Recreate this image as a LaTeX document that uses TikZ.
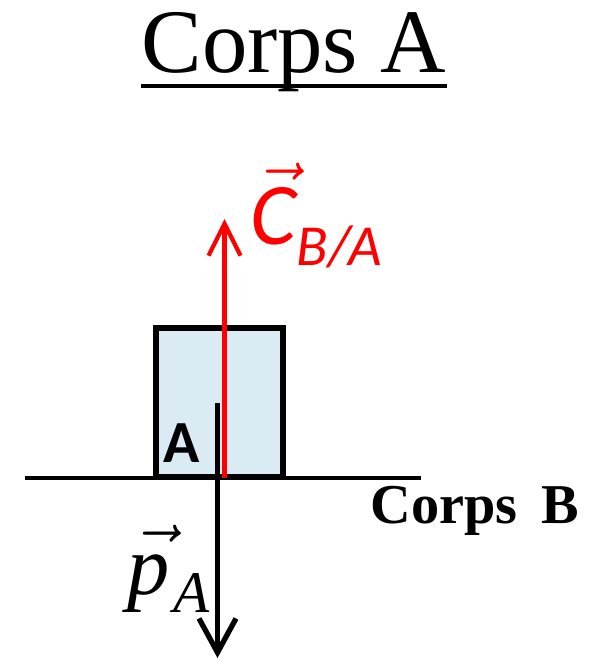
\documentclass[tikz,border=0pt]{standalone}
\usepackage{amsmath}
\usepackage{fontspec}
\setmainfont{Liberation Serif}
\newfontfamily\calibri{Carlito}
\usetikzlibrary{arrows.meta}
\definecolor{bodyblue}{RGB}{218,235,243}

\begin{document}
\begin{tikzpicture}[x=0.01cm, y=-0.01cm,
body/.style={rectangle, draw, line width=1.7pt, fill=bodyblue,
minimum width=1.27cm, minimum height=1.49cm, inner sep=0pt},
lbl/.style={inner sep=0pt, anchor=base},
ground/.style={line width=1pt},
force/.style={line width=1.2pt, -{Straight Barb[length=0.32cm, width=0.32cm]}},
weight/.style={line width=1.5pt, -{Straight Barb[length=0.34cm, width=0.37cm]}}
]
\useasboundingbox (0,0) rectangle (600,661);

% title
\node[lbl, font=\fontsize{25.8}{30}\selectfont] (title) at (294,73) {Corps A};
\draw[line width=1.1pt] ([yshift=-0.13cm]title.base west) -- ([yshift=-0.13cm]title.base east);

% support
\draw[ground] (25,478) -- (421,478);
\node[lbl, font=\bfseries\fontsize{16}{19}\selectfont] (corpsB) at (475,523) {Corps\hspace{0.1cm} B};

% body A
\node[body] (bodyA) at (219.5,402.5) {};
\node[lbl, font=\calibri\bfseries\fontsize{17}{20}\selectfont] (labA) at (182,462) {A};

% forces
\coordinate (G) at (217.5,403);
\coordinate (pend) at (217.5,658);
\coordinate (contact) at (224.5,478);
\coordinate (cend) at (224.5,219);
\draw[weight] (G) -- (pend);
\draw[force, red] (contact) -- (cend);

\node[lbl, anchor=base west, font=\itshape\fontsize{24}{28}\selectfont] (labP) at (127,594)
{$\skew{3}\vec{\text{p}\rule{0pt}{0.44cm}}$\hspace{0.04cm}\raisebox{-0.18cm}{\fontsize{16.8}{20}\selectfont A}};
\node[lbl, anchor=base west, red, font=\calibri\itshape\fontsize{25}{29}\selectfont] (labC) at (250,245)
{$\skew{2}\vec{\text{C}\rule{0pt}{0.53cm}}$\raisebox{-0.2cm}{\fontsize{16.5}{20}\selectfont B/A}};
\end{tikzpicture}
\end{document}
